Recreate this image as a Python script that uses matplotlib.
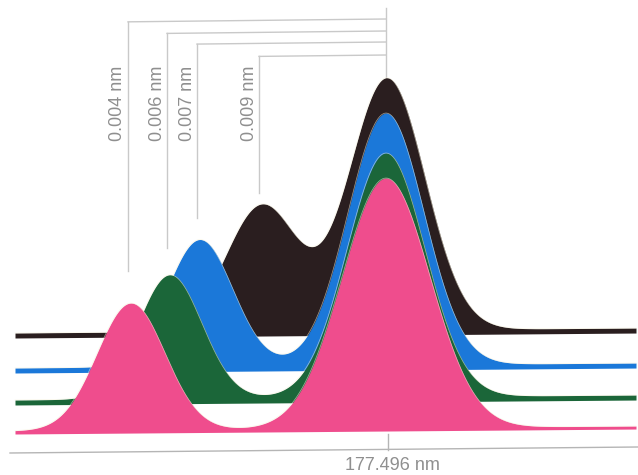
import numpy as np
import matplotlib
matplotlib.use("Agg")
import matplotlib.pyplot as plt

# ---------------- data (back to front) ----------------
labels = ["0.009 nm", "0.007 nm", "0.006 nm", "0.004 nm"]
colors = ["#2a1e1f", "#1b78d9", "#1b6639", "#ef4d8d"]
baselines = [338, 373, 405, 434]          # ribbon baseline level (pixel-like units, y down)
ribbon_thick = [5, 5, 5, 3]
left_pos = [262, 200, 170, 131]
left_height = [126, 127, 124, 127]
left_sigma = [36, 33, 32, 34]
right_pos = [387, 386, 386, 386]
right_height = [252, 252, 244, 250]
right_sigma = [38, 38, 39, 44]
leader_top = [55, 42, 31, 19]
leader_gap = [12, 22, 27, 32]
x_label = "177.496 nm"

# ---------------- figure ----------------
W, H = 638, 475
fig = plt.figure(figsize=(W / 100, H / 100), dpi=100)
ax = fig.add_axes([0, 0, 1, 1])
ax.set_xlim(0, W)
ax.set_ylim(H, 0)
ax.axis("off")

tilt = -0.008  # slight scan skew


def skew(x):
    return tilt * (np.asarray(x) - 15)


x = np.linspace(15, 636, 1500)
text_kw = dict(family=["Liberation Sans", "DejaVu Sans"], color="#8f8f8f", fontsize=13)

for i in range(len(labels)):
    g = (left_height[i] * np.exp(-(x - left_pos[i]) ** 2 / (2 * left_sigma[i] ** 2))
         + right_height[i] * np.exp(-(x - right_pos[i]) ** 2 / (2 * right_sigma[i] ** 2)))
    base = baselines[i] + skew(x)
    top = base - ribbon_thick[i] - g
    ax.fill_between(x, base, top, color=colors[i], lw=0, zorder=2 + i)
    ax.plot(x, top, color="#f4f0d8", lw=0.5, alpha=0.6, zorder=2 + i)

# leader lines and labels
lc = "#c9c9c9"
main_x = right_pos[1]
black_top = (baselines[0] + skew(main_x) - ribbon_thick[0] - right_height[0]
             - left_height[0] * np.exp(-(main_x - left_pos[0]) ** 2 / (2 * left_sigma[0] ** 2)))
ax.plot([main_x, main_x], [8, black_top], color=lc, lw=1, zorder=1)
for i in range(len(labels)):
    lx = left_pos[i] - 3
    ty = leader_top[i]
    left_y = ty + (main_x - lx) * 0.011
    peak_y = baselines[i] + skew(left_pos[i]) - ribbon_thick[i] - left_height[i]
    ax.plot([lx, main_x], [left_y, ty], color=lc, lw=1, zorder=1)
    ax.plot([lx, lx], [left_y, peak_y - leader_gap[i]], color=lc, lw=1, zorder=1)
    ax.text(lx - 10, 103, labels[i], rotation=90, ha="center", va="center", **text_kw)

# bottom axis
ax.plot([10, 638], [453, 447], color="#b5b5b5", lw=1, zorder=1)
ax.plot([388, 388], [434, 450], color="#b5b5b5", lw=1, zorder=1)
ax.text(392, 466, x_label, ha="center", va="center", **text_kw)

fig.savefig("out.png", dpi=100)
